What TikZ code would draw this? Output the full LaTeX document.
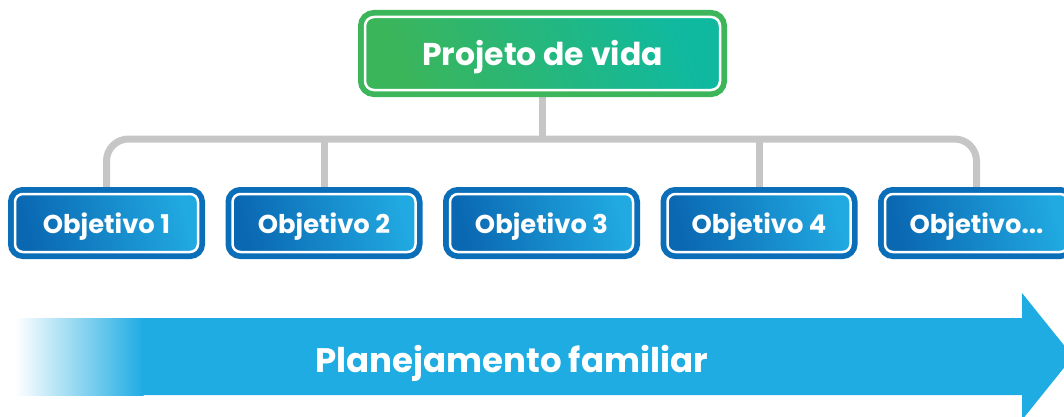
\documentclass[tikz,border=0pt]{standalone}
\usepackage{fontspec}
\setmainfont{Poppins}
\usetikzlibrary{positioning, backgrounds}

\definecolor{vidaouter}{HTML}{3CB55B}
\definecolor{vidaleft}{HTML}{3BB55A}
\definecolor{vidaright}{HTML}{0FB9A0}
\definecolor{objouter}{HTML}{0B6EB8}
\definecolor{objleft}{HTML}{0A68B2}
\definecolor{objright}{HTML}{21A9E1}
\definecolor{linkgray}{HTML}{C6C6C6}
\definecolor{arrowblue}{HTML}{1EACE3}

\begin{document}
\begin{tikzpicture}[x=1pt, y=1pt, node distance=34.5pt,
    vidabox/.style={rectangle, rounded corners=9pt, outer sep=0pt,
                minimum width=355pt, minimum height=73pt, text=white,
                text height=23pt, text depth=0pt,
                font=\fontsize{31.5}{36}\selectfont\bfseries,
                preaction={draw=vidaouter, line width=14pt},
                left color=vidaleft, right color=vidaright, shading angle=110,
                draw=white, line width=2.5pt},
    objbox/.style={rectangle, rounded corners=8pt, outer sep=0pt,
                minimum width=183pt, minimum height=58pt, text=white,
                text height=21.5pt, text depth=0pt,
                font=\fontsize{25.8}{30}\selectfont\bfseries,
                preaction={draw=objouter, line width=14pt},
                left color=objleft, right color=objright, shading angle=105,
                draw=white, line width=2.5pt},
    link/.style={draw=linkgray, line width=7pt, rounded corners=22pt},
    arrowtext/.style={text=white, font=\fontsize{34}{40}\selectfont\bfseries}]

    \clip (0,0) rectangle (1064,416);
    \useasboundingbox (0,0) rectangle (1064,416);

    % top box and the objectives
    \node[vidabox] (vida) at (542.5,362.5) {Projeto de vida};
    \node[objbox] (obj1) at (106.5,193) {Objetivo 1};
    \node[objbox, right=of obj1] (obj2) {Objetivo 2};
    \node[objbox, right=of obj2] (obj3) {Objetivo 3};
    \node[objbox, right=of obj3] (obj4) {Objetivo 4};
    \node[objbox, right=of obj4] (obj5) {Objetivo...};

    % connectors behind the boxes
    \coordinate (bar) at (vida.south |- 0,277);
    \begin{pgfonlayer}{background}
    \draw[link] (obj1.north) |- (bar) -| (obj5.north);
    \draw[link] (vida.south) -- (bar);
    \draw[link] (obj2.north) -- (obj2.north |- bar);
    \draw[link] (obj4.north) -- (obj4.north |- bar);
    \end{pgfonlayer}

    % timeline arrow
    \shade[left color=white, right color=arrowblue] (15,21) rectangle (143.5,98);
    \fill[arrowblue] (143,21) -- (1022,21) -- (1022,-4) -- (1073,59.5)
        -- (1022,123) -- (1022,98) -- (143,98) -- cycle;
    \node[arrowtext, anchor=base] (plan) at (511.5,44) {Planejamento familiar};
\end{tikzpicture}
\end{document}
